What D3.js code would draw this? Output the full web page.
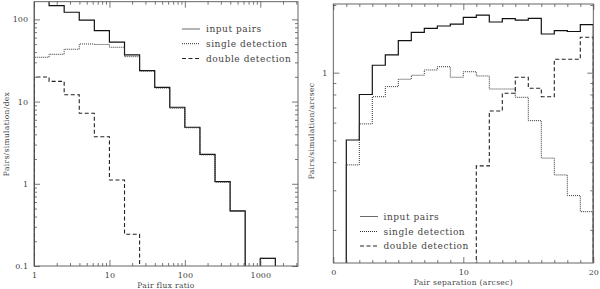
<!DOCTYPE html>
<html>
<head>
<meta charset="utf-8">
<script src="https://cdn.jsdelivr.net/npm/d3@7"></script>
<style>
  body { margin: 0; background: #fff; }
  svg { display: block; }
  text { font-family: "DejaVu Serif", serif; fill: #444; }
</style>
</head>
<body>
<div id="chart"></div>
<script>
// ---- data ----
// left panel: bins in log10(flux ratio), 0.2 dex wide
const fluxBinLog = [0, 0.2, 0.4, 0.6, 0.8, 1.0, 1.2, 1.4, 1.6, 1.8, 2.0, 2.2, 2.4, 2.6, 2.8, 3.0, 3.2];
const fluxInput  = [190, 147, 122, 98, 73, 53, 36.9, 23.8, 14.9, 8.53, 4.87, 2.28, 1.06, 0.467, 0, 0.124];
const fluxSingle = [34.6, 37.6, 43.3, 50.2, 49.5, 45.8, 35.2, 23.5, 14.6, 8.3, 4.8, 2.25, 1.05, 0.46, 0, 0.124];
const fluxDouble = [19.9, 17.6, 12.1, 7.2, 3.74, 1.11, 0.243, 0, 0, 0, 0, 0, 0, 0, 0, 0];
const fluxXTicks = [1, 10, 100, 1000];
const fluxYTicks = [0.1, 1, 10, 100];

// right panel: bins in separation (arcsec), 1 arcsec wide
const sepBins   = [0, 1, 2, 3, 4, 5, 6, 7, 8, 9, 10, 11, 12, 13, 14, 15, 16, 17, 18, 19, 20];
const sepInput  = [0, 0.502, 0.80, 1.079, 1.199, 1.388, 1.512, 1.575, 1.613, 1.645, 1.763, 1.804, 1.68, 1.738, 1.714, 1.745, 1.486, 1.537, 1.524, 1.637];
const sepSingle = [0, 0.389, 0.592, 0.782, 0.867, 0.935, 0.974, 1.028, 1.063, 0.954, 1.01, 0.967, 0.846, 0.846, 0.777, 0.612, 0.417, 0.351, 0.284, 0.241];
const sepDouble = [0, 0, 0, 0, 0, 0, 0, 0, 0, 0, 0, 0.385, 0.676, 0.81, 0.954, 0.853, 0.782, 1.147, 1.147, 1.437];
const sepXTicks = [0, 10, 20];
const sepYTicks = [1];

const seriesNames = ["input pairs", "single detection", "double detection"];

// ---- styles ----
const lineStyles = [
    {stroke: "#111", width: 1.2, dash: null},
    {stroke: "#333", width: 1.0, dash: "1,1"},
    {stroke: "#222", width: 1.1, dash: "4,2.5"}
];

const width = 600, height = 289;
const svg = d3.select("#chart")
    .append("svg")
    .attr("width", width)
    .attr("height", height);

// decade minor ticks for log axes
const logMinors = (lo, hi) => {
    const out = [];
    for (let e = Math.floor(Math.log10(lo)); e <= Math.ceil(Math.log10(hi)); e++) {
        for (let m = 2; m <= 9; m++) {
            const v = m * Math.pow(10, e);
            if (v > lo * 1.0001 && v < hi * 0.9999) out.push(v);
        }
    }
    return out;
};

// step path through a histogram
const histPath = (x, y, edges, vals, floorY) => {
    const pts = [[x(edges[0]), floorY]];
    vals.forEach((v, i) => {
        pts.push([x(edges[i]), v > 0 ? y(v) : floorY]);
    });
    pts.push([x(edges[edges.length - 1]), floorY]);
    return d3.line().curve(d3.curveStepAfter)(pts);
};

const drawPanel = (cfg) => {
    const g = svg.append("g");
    const [x0, x1] = cfg.x.range();
    const [y0, y1] = cfg.y.range();

    // clip
    const clipId = "clip-" + cfg.id;
    svg.append("clipPath").attr("id", clipId)
        .append("rect")
        .attr("x", x0).attr("y", y1)
        .attr("width", x1 - x0).attr("height", y0 - y1);

    const plot = g.append("g").attr("clip-path", "url(#" + clipId + ")");
    cfg.series.forEach((vals, i) => {
        const s = lineStyles[i];
        plot.append("path")
            .attr("d", histPath(cfg.x, cfg.y, cfg.edges, vals, y0 + 10))
            .attr("fill", "none")
            .attr("stroke", s.stroke)
            .attr("stroke-width", s.width)
            .attr("stroke-dasharray", s.dash);
    });

    // axes, ticks pointing inwards on all four sides
    const axes = [
        {fn: d3.axisBottom, sc: cfg.x, t: "translate(0," + y0 + ")", major: cfg.xTicks, minor: cfg.xMinor, label: true},
        {fn: d3.axisTop, sc: cfg.x, t: "translate(0," + y1 + ")", major: cfg.xTicks, minor: cfg.xMinor, label: false},
        {fn: d3.axisLeft, sc: cfg.y, t: "translate(" + x0 + ",0)", major: cfg.yTicks, minor: cfg.yMinor, label: true},
        {fn: d3.axisRight, sc: cfg.y, t: "translate(" + x1 + ",0)", major: cfg.yTicks, minor: cfg.yMinor, label: false}
    ];
    axes.forEach((a) => {
        const isX = a.sc === cfg.x;
        const fmt = isX ? cfg.xFormat : cfg.yFormat;
        const ag = g.append("g").attr("transform", a.t)
            .call(a.fn(a.sc).tickValues(a.major).tickSize(-6).tickPadding(6)
                .tickFormat(a.label ? fmt : ""));
        ag.select(".domain").remove();
        ag.selectAll(".tick line").attr("stroke", "#555").attr("stroke-width", 0.8);
        ag.selectAll(".tick text")
            .attr("font-family", "DejaVu Serif, serif")
            .attr("font-size", 8)
            .attr("fill", "#444");
        const mg = g.append("g").attr("transform", a.t)
            .call(a.fn(a.sc).tickValues(a.minor).tickSize(-3).tickFormat(""));
        mg.select(".domain").remove();
        mg.selectAll(".tick line").attr("stroke", "#555").attr("stroke-width", 0.8);
    });

    // frame
    g.append("rect")
        .attr("x", x0).attr("y", y1)
        .attr("width", x1 - x0).attr("height", y0 - y1)
        .attr("fill", "none")
        .attr("stroke", "#555")
        .attr("stroke-width", 0.9);

    // axis titles
    g.append("text")
        .attr("x", (x0 + x1) / 2).attr("y", cfg.xTitleY)
        .attr("text-anchor", "middle")
        .attr("font-size", 7.5)
        .attr("letter-spacing", 0.35)
        .text(cfg.xTitle);
    g.append("text")
        .attr("transform", "translate(" + cfg.yTitleX + "," + cfg.yTitleCY + ") rotate(-90)")
        .attr("text-anchor", "middle")
        .attr("dy", "0.35em")
        .attr("font-size", 7.5)
        .attr("letter-spacing", 0.35)
        .text(cfg.yTitle);

    // legend
    const lg = g.append("g");
    seriesNames.forEach((name, i) => {
        const s = lineStyles[i];
        const ly = cfg.legend.y[i];
        lg.append("line")
            .attr("x1", cfg.legend.x1).attr("x2", cfg.legend.x2)
            .attr("y1", ly).attr("y2", ly)
            .attr("stroke", i === 0 ? "#444" : s.stroke)
            .attr("stroke-width", i === 0 ? 0.8 : s.width)
            .attr("stroke-dasharray", s.dash);
        lg.append("text")
            .attr("x", cfg.legend.tx).attr("y", ly)
            .attr("dy", "0.35em")
            .attr("font-size", 9)
            .attr("letter-spacing", 0.55)
            .text(name);
    });
};

// left panel: flux ratio
const xFlux = d3.scaleLog()
    .domain([1, Math.pow(10, fluxBinLog[fluxBinLog.length - 1] + 0.3)])
    .range([34, 298]);
const yFlux = d3.scaleLog()
    .domain([0.1, 164])
    .range([266, 1.7]);

drawPanel({
    id: "flux",
    x: xFlux, y: yFlux,
    edges: fluxBinLog.map(e => Math.pow(10, e)),
    series: [fluxInput, fluxSingle, fluxDouble],
    xTicks: fluxXTicks, xMinor: logMinors(1, xFlux.domain()[1]),
    yTicks: fluxYTicks, yMinor: logMinors(0.1, 164),
    xFormat: d3.format("d"),
    yFormat: v => v < 1 ? "0.1" : d3.format("d")(v),
    xTitle: "Pair flux ratio", xTitleY: 288,
    yTitle: "Pairs/simulation/dex", yTitleX: 6, yTitleCY: 134,
    legend: {x1: 182, x2: 200, tx: 206, y: [29, 43.7, 58.5]}
});

// right panel: separation
const xSep = d3.scaleLinear()
    .domain([0, 20])
    .range([333.3, 593.3]);
const ySep = d3.scaleLog()
    .domain([0.1425, 2.02])
    .range([263, 4]);

drawPanel({
    id: "sep",
    x: xSep, y: ySep,
    edges: sepBins,
    series: [sepInput, sepSingle, sepDouble],
    xTicks: sepXTicks, xMinor: sepBins.filter(v => sepXTicks.indexOf(v) < 0),
    yTicks: sepYTicks, yMinor: [0.2, 0.3, 0.4, 0.5, 0.6, 0.7, 0.8, 0.9, 2],
    xFormat: d3.format("d"),
    yFormat: d3.format("d"),
    xTitle: "Pair separation (arcsec)", xTitleY: 285,
    yTitle: "Pairs/simulation/arcsec", yTitleX: 311, yTitleCY: 131,
    legend: {x1: 360, x2: 378, tx: 383.5, y: [216.5, 231.5, 246]}
});
</script>
</body>
</html>
